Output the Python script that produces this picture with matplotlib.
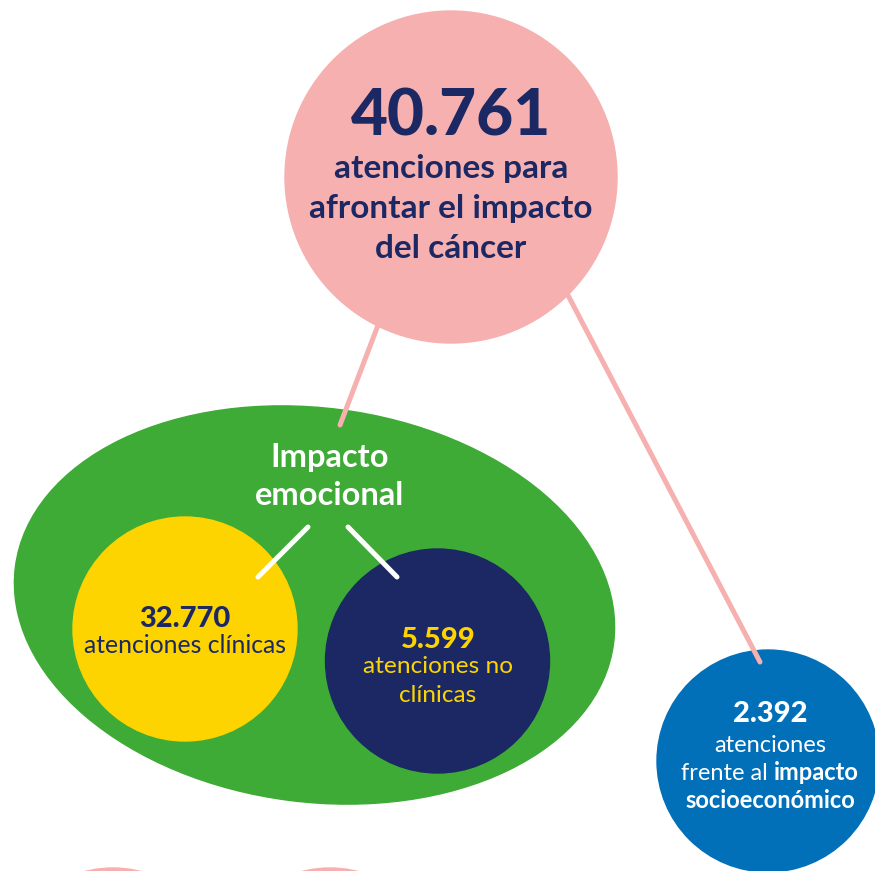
import matplotlib
matplotlib.use("Agg")
import matplotlib.pyplot as plt
from matplotlib.patches import Circle, Ellipse

# --- data ---
total_value = "40.761"
total_lines = ["atenciones para", "afrontar el impacto", "del cáncer"]
group_label = ["Impacto", "emocional"]
clinical_value = "32.770"
clinical_lines = ["atenciones clínicas"]
nonclinical_value = "5.599"
nonclinical_lines = ["atenciones no", "clínicas"]
socio_value = "2.392"
socio_lines = ["atenciones", ("frente al ", "impacto"), "socioeconómico"]

PINK = "#f5b0af"
GREEN = "#3dab35"
YELLOW = "#fdd400"
NAVY = "#1b2863"
BLUE = "#0170b9"
FONT = "Lato"

W, H = 875, 871
fig = plt.figure(figsize=(W / 100, H / 100), dpi=100)
ax = fig.add_axes([0, 0, 1, 1])
ax.set_xlim(0, W)
ax.set_ylim(H, 0)
ax.set_aspect("equal")
ax.axis("off")

# shapes
ax.add_patch(Ellipse((314.5, 605), 603, 394, angle=7.3, color=GREEN, zorder=2))
ax.add_patch(Circle((185, 629), 112, color=YELLOW, zorder=3))
ax.add_patch(Circle((437.5, 661), 112, color=NAVY, zorder=3))
ax.add_patch(Circle((768, 761), 111, color=BLUE, zorder=3))
ax.add_patch(Circle((113, 981), 113, color=PINK, zorder=3))
ax.add_patch(Circle((330, 981), 113, color=PINK, zorder=3))

# pink connectors, their ends lie on top of the child shapes
ax.plot([380, 340], [320, 425], color=PINK, lw=3.6, solid_capstyle="round", zorder=4)
ax.plot([560, 760], [280, 662], color=PINK, lw=3.6, solid_capstyle="round", zorder=4)
ax.add_patch(Circle((451, 177), 166, color=PINK, zorder=4))

# white connectors inside the ellipse
ax.plot([258, 308], [577, 527], color="white", lw=3.6, solid_capstyle="round", zorder=4)
ax.plot([348, 397], [527, 577], color="white", lw=3.6, solid_capstyle="round", zorder=4)

# texts
ax.text(451, 135, total_value, color=NAVY, fontsize=46, fontweight="black",
        family=FONT, ha="center", va="baseline", zorder=5)
for i, line in enumerate(total_lines):
    ax.text(451, 178 + 40 * i, line, color=NAVY, fontsize=24, fontweight="bold",
            family=FONT, ha="center", va="baseline", zorder=5)

for i, line in enumerate(group_label):
    ax.text(330, 467 + 38 * i, line, color="white", fontsize=23.5, fontweight="bold",
            family=FONT, ha="center", va="baseline", zorder=5)

ax.text(185, 627, clinical_value, color=NAVY, fontsize=21, fontweight="black",
        family=FONT, ha="center", va="baseline", zorder=5)
ax.text(185, 653, clinical_lines[0], color=NAVY, fontsize=17.8,
        family=FONT, ha="center", va="baseline", zorder=5)

ax.text(438, 648, nonclinical_value, color=YELLOW, fontsize=21, fontweight="black",
        family=FONT, ha="center", va="baseline", zorder=5)
for i, line in enumerate(nonclinical_lines):
    ax.text(438, 673 + 29 * i, line, color=YELLOW, fontsize=17.6,
            family=FONT, ha="center", va="baseline", zorder=5)

ax.text(770, 722, socio_value, color="white", fontsize=21, fontweight="black",
        family=FONT, ha="center", va="baseline", zorder=5)
ax.text(770, 752, socio_lines[0], color="white", fontsize=17,
        family=FONT, ha="center", va="baseline", zorder=5)
ax.text(770, 808, socio_lines[2], color="white", fontsize=17, fontweight="bold",
        family=FONT, ha="center", va="baseline", zorder=5)

# mixed-weight line: measure both parts, then centre them together
part_a = ax.text(0, 780, socio_lines[1][0], color="white", fontsize=17,
                 family=FONT, ha="left", va="baseline", zorder=5)
part_b = ax.text(0, 780, socio_lines[1][1], color="white", fontsize=17, fontweight="bold",
                 family=FONT, ha="left", va="baseline", zorder=5)
fig.canvas.draw()
r = fig.canvas.get_renderer()
wa = part_a.get_window_extent(r).width
wb = part_b.get_window_extent(r).width
start = 770 - (wa + wb) / 2
part_a.set_x(start)
part_b.set_x(start + wa)

fig.savefig("out.png", dpi=100)
